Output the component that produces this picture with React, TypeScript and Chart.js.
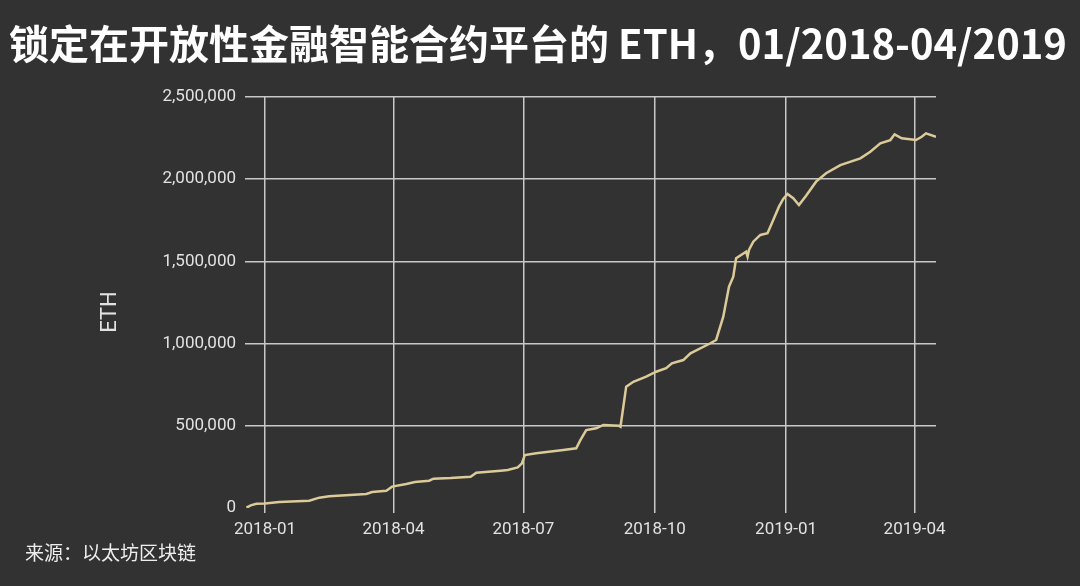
import React, { useEffect, useRef } from 'react';
import { Chart, registerables } from 'chart.js';

Chart.register(...registerables);

const titleText = '锁定在开放性金融智能合约平台的 ETH，01/2018-04/2019';
const sourceText = '来源：以太坊区块链';
const yAxisTitle = 'ETH';

const dates = [
  '2017-12-19', '2017-12-22', '2017-12-26', '2018-01-01', '2018-01-11', '2018-02-01',
  '2018-02-08', '2018-02-15', '2018-03-13', '2018-03-17', '2018-03-27', '2018-03-31',
  '2018-04-10', '2018-04-16', '2018-04-26', '2018-04-29', '2018-05-11', '2018-05-25',
  '2018-05-29', '2018-06-15', '2018-06-20', '2018-06-27', '2018-06-30', '2018-07-02',
  '2018-07-10', '2018-07-29', '2018-08-07', '2018-08-10', '2018-08-14', '2018-08-21',
  '2018-08-26', '2018-09-06', '2018-09-07', '2018-09-11', '2018-09-16', '2018-09-25',
  '2018-10-02', '2018-10-09', '2018-10-13', '2018-10-21', '2018-10-26', '2018-11-09',
  '2018-11-13', '2018-11-18', '2018-11-22', '2018-11-25', '2018-11-27', '2018-12-04',
  '2018-12-05', '2018-12-06', '2018-12-09', '2018-12-14', '2018-12-19', '2018-12-23',
  '2018-12-27', '2018-12-30', '2019-01-02', '2019-01-06', '2019-01-10', '2019-01-15',
  '2019-01-22', '2019-01-29', '2019-02-08', '2019-02-22', '2019-03-01', '2019-03-08',
  '2019-03-15', '2019-03-18', '2019-03-23', '2019-04-02', '2019-04-06', '2019-04-09',
  '2019-04-16',
];

const ethLocked = [
  2000, 16000, 26000, 28000, 36000, 44000,
  63000, 71000, 85000, 97000, 105000, 130000,
  146000, 158000, 166000, 178000, 182000, 190000,
  215000, 227000, 231000, 247000, 272000, 322000,
  333000, 353000, 363000, 414000, 474000, 485000,
  505000, 500000, 495000, 738000, 768000, 799000,
  829000, 850000, 880000, 900000, 941000, 1002000,
  1022000, 1164000, 1346000, 1407000, 1519000, 1559000,
  1529000, 1570000, 1620000, 1661000, 1671000, 1752000,
  1833000, 1880000, 1910000, 1884000, 1843000, 1900000,
  1985000, 2036000, 2086000, 2127000, 2167000, 2218000,
  2238000, 2273000, 2249000, 2238000, 2258000, 2279000,
  2258000,
];

const tickDates = ['2018-01-01', '2018-04-01', '2018-07-01', '2018-10-01', '2019-01-01', '2019-04-01'];
const tickLabels = ['2018-01', '2018-04', '2018-07', '2018-10', '2019-01', '2019-04'];
const xRange = ['2017-12-18', '2019-04-16'];
const yMax = 2500000;
const yStep = 500000;

const dayOf = (s: string) =>
  (Date.parse(s + 'T00:00:00Z') - Date.parse('2018-01-01T00:00:00Z')) / 86400000;

const BG = '#323232';
const GRID = '#c8c8c8';
const TEXT = '#e2e2e2';

export default function App() {
  const ref = useRef<HTMLCanvasElement | null>(null);

  useEffect(() => {
    if (!ref.current) return;
    const points = dates.map((d, i) => ({ x: dayOf(d), y: ethLocked[i] }));
    const tickVals = tickDates.map(dayOf);

    const decor = {
      id: 'decor',
      beforeDraw(chart: any) {
        const ctx = chart.ctx;
        ctx.save();
        ctx.fillStyle = BG;
        ctx.fillRect(0, 0, chart.width, chart.height);
        ctx.restore();
      },
      afterDraw(chart: any) {
        const ctx = chart.ctx;
        ctx.save();
        ctx.fillStyle = '#ffffff';
        ctx.font = 'bold 40px "Noto Sans CJK SC", sans-serif';
        ctx.textAlign = 'center';
        ctx.textBaseline = 'middle';
        ctx.fillText(titleText, 538, 44);

        ctx.fillStyle = '#eeeeee';
        ctx.font = '19px "Noto Sans CJK SC", sans-serif';
        ctx.textAlign = 'left';
        ctx.fillText(sourceText, 25, 553);

        ctx.translate(110, 312);
        ctx.rotate(-Math.PI / 2);
        ctx.fillStyle = TEXT;
        ctx.font = '22px Roboto, sans-serif';
        ctx.textAlign = 'center';
        ctx.fillText(yAxisTitle, 0, 0);
        ctx.restore();
      },
    };

    const chart = new Chart(ref.current, {
      type: 'line',
      data: {
        datasets: [
          {
            data: points,
            borderColor: '#dccb98',
            borderWidth: 2.5,
            pointRadius: 0,
            tension: 0,
            fill: false,
          },
        ],
      },
      options: {
        animation: false,
        responsive: false,
        maintainAspectRatio: false,
        layout: { padding: { top: 97, right: 144, left: 0, bottom: 0 } },
        plugins: { legend: { display: false }, title: { display: false }, tooltip: { enabled: false } },
        scales: {
          x: {
            type: 'linear',
            min: dayOf(xRange[0]),
            max: dayOf(xRange[1]),
            afterBuildTicks: (s: any) => {
              s.ticks = tickVals.map((v) => ({ value: v }));
            },
            afterFit: (s: any) => {
              s.height = 78;
            },
            ticks: {
              autoSkip: false,
              maxRotation: 0,
              padding: 7,
              color: TEXT,
              font: { family: 'Roboto', size: 17 },
              callback: (v: any) => {
                const i = tickVals.indexOf(Number(v));
                return i >= 0 ? tickLabels[i] : '';
              },
            },
            grid: { color: GRID, lineWidth: 1.5, drawTicks: true, tickLength: 5 },
            border: { display: false },
          },
          y: {
            min: 0,
            max: yMax,
            afterFit: (s: any) => {
              s.width = 245;
            },
            ticks: {
              stepSize: yStep,
              padding: 9,
              color: TEXT,
              font: { family: 'Roboto', size: 17 },
              callback: (v: any) => Number(v).toLocaleString('en-US'),
            },
            grid: {
              color: (c: any) => (c.tick && c.tick.value === 0 ? 'rgba(0,0,0,0)' : GRID),
              lineWidth: 1.5,
              drawTicks: false,
            },
            border: { display: false },
          },
        },
      },
      plugins: [decor],
    });
    return () => chart.destroy();
  }, []);

  return (
    <div style={{ position: 'fixed', left: 0, top: 0, width: 1080, height: 586, background: BG }}>
      <canvas ref={ref} width={1080} height={586} style={{ display: 'block' }} />
    </div>
  );
}
